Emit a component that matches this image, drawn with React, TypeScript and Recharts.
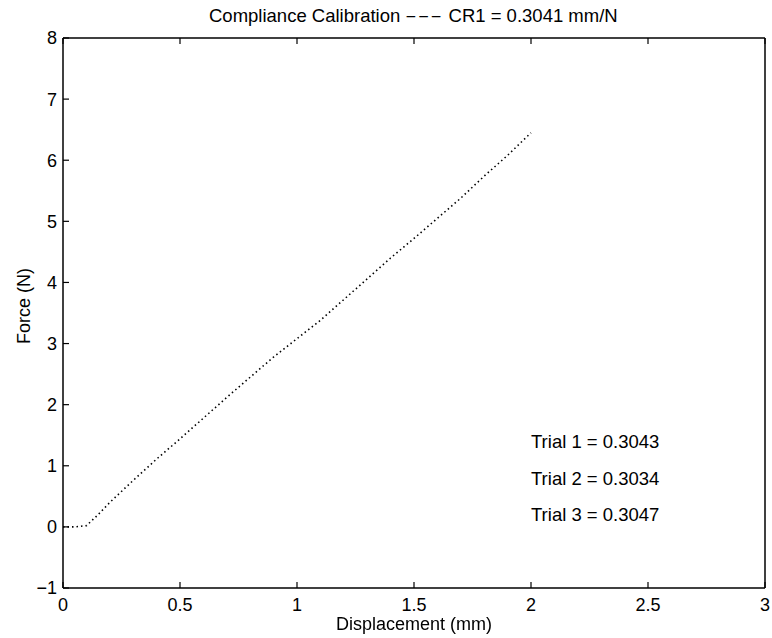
import { LineChart, Line, XAxis, YAxis } from "recharts";

// displacement (mm) vs force (N)
const displacement = [0, 0.05, 0.1, 0.15, 0.2, 0.3, 0.4, 0.5, 0.6, 0.7, 0.8, 0.9, 1.0, 1.1, 1.2, 1.3, 1.4, 1.5, 1.6, 1.7, 1.8, 1.9, 2.0];
const force = [0, 0, 0.02, 0.2, 0.4, 0.76, 1.11, 1.44, 1.78, 2.12, 2.45, 2.78, 3.08, 3.38, 3.72, 4.06, 4.4, 4.72, 5.05, 5.38, 5.74, 6.08, 6.45];

const xTicks = [0, 0.5, 1, 1.5, 2, 2.5, 3];
const yTicks = [-1, 0, 1, 2, 3, 4, 5, 6, 7, 8];
const trials = ["Trial 1 = 0.3043", "Trial 2 = 0.3034", "Trial 3 = 0.3047"];

const data = displacement.map((d, i) => ({ d, f: force[i] }));

const font = "'Liberation Sans', Arial, Helvetica, sans-serif";
const fmt = (v: number) => (v < 0 ? `\u2212${Math.abs(v)}` : `${v}`);
const TL = 6; // inward tick length

// MATLAB-style ticks: short marks pointing into the plot box
const BottomTick = ({ x, y, payload }: any) => (
  <g>
    <line x1={x} x2={x} y1={y} y2={y - TL} stroke="#000" strokeWidth={1.2} />
    <text x={x} y={y + 10} dy="0.71em" textAnchor="middle" fontSize={18} fontFamily={font} fill="#000">{fmt(payload.value)}</text>
  </g>
);
const LeftTick = ({ x, y, payload }: any) => (
  <g>
    <line x1={x} x2={x + TL} y1={y} y2={y} stroke="#000" strokeWidth={1.2} />
    <text x={x - 6} y={y} dy="0.36em" textAnchor="end" fontSize={18} fontFamily={font} fill="#000">{fmt(payload.value)}</text>
  </g>
);
const TopTick = ({ x, y }: any) => <line x1={x} x2={x} y1={y} y2={y + TL} stroke="#000" strokeWidth={1.2} />;
const RightTick = ({ x, y }: any) => <line x1={x} x2={x - TL} y1={y} y2={y} stroke="#000" strokeWidth={1.2} />;

export default function App() {
  return (
    <div style={{ position: "fixed", left: 0, top: 0, width: 772, height: 638, background: "#fff", fontFamily: font, color: "#000" }}>
      <LineChart width={772} height={638} data={data} margin={{ top: 37, right: 6, left: 0, bottom: 0 }}>
        <XAxis xAxisId="b" dataKey="d" type="number" domain={[0, 3]} ticks={xTicks} tick={<BottomTick />}
          tickLine={false} tickSize={0} tickMargin={0} height={50} stroke="#000" strokeWidth={1.5} interval={0} />
        <XAxis xAxisId="t" dataKey="d" type="number" orientation="top" domain={[0, 3]} ticks={xTicks} tick={<TopTick />}
          tickLine={false} tickSize={0} tickMargin={0} height={1} stroke="#000" strokeWidth={1.5} interval={0} />
        <YAxis yAxisId="l" type="number" domain={[-1, 8]} ticks={yTicks} tick={<LeftTick />}
          tickLine={false} tickSize={0} tickMargin={0} width={63} stroke="#000" strokeWidth={1.5} interval={0} />
        <YAxis yAxisId="r" orientation="right" type="number" domain={[-1, 8]} ticks={yTicks} tick={<RightTick />}
          tickLine={false} tickSize={0} tickMargin={0} width={1} stroke="#000" strokeWidth={1.5} interval={0} />
        <Line xAxisId="b" yAxisId="l" type="linear" dataKey="f" stroke="#000" strokeWidth={1.6}
          strokeDasharray="1.5 3" dot={false} isAnimationActive={false} />
      </LineChart>

      <div style={{ position: "absolute", left: 209, top: 5, fontSize: 18.5, whiteSpace: "nowrap" }}>
        Compliance Calibration{" "}
        <span style={{ display: "inline-block", transform: "scaleX(1.9)", margin: "0 9px", letterSpacing: 0.5 }}>---</span>{" "}
        CR1 = 0.3041 mm/N
      </div>
      <div style={{ position: "absolute", left: 0, width: 828, top: 614, textAlign: "center", fontSize: 18, whiteSpace: "nowrap" }}>
        Displacement (mm)
      </div>
      <div style={{ position: "absolute", left: 24, top: 306, fontSize: 18, whiteSpace: "nowrap", transform: "translate(-50%, -50%) rotate(-90deg)" }}>
        Force (N)
      </div>
      {trials.map((t, i) => (
        <div key={t} style={{ position: "absolute", left: 531, top: 431 + i * 36.5, fontSize: 18.5, whiteSpace: "nowrap" }}>
          {t}
        </div>
      ))}
    </div>
  );
}
